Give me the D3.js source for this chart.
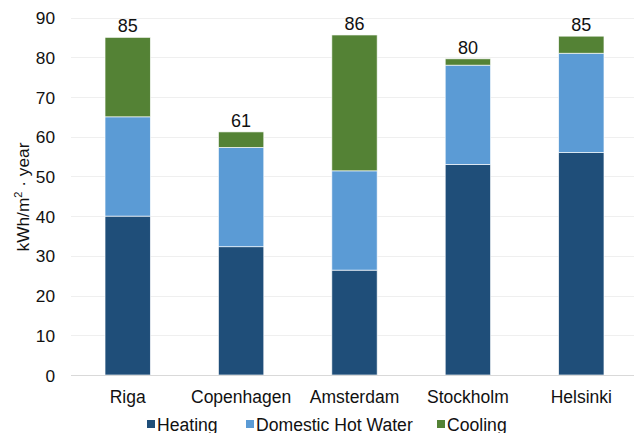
<!DOCTYPE html>
<html>
<head>
<meta charset="utf-8">
<script src="https://cdn.jsdelivr.net/npm/d3@7"></script>
<style>
  html, body { margin: 0; padding: 0; background: #fff; }
  svg { display: block; font-family: "Liberation Sans", Arial, sans-serif; }
</style>
</head>
<body>
<svg id="chart" width="634" height="433"></svg>
<script>
// Annual energy demand per city, kWh/m² · year
const cities = ["Riga", "Copenhagen", "Amsterdam", "Stockholm", "Helsinki"];
const heating = [40, 32.3, 26.4, 53, 56];
const hotWater = [25, 25, 25, 25, 25];
const cooling = [20, 3.9, 34.2, 1.6, 4.3];
const seriesNames = ["Heating", "Domestic Hot Water", "Cooling"];
const seriesColors = ["#1f4e79", "#5b9bd5", "#548235"];
const yTicks = [0, 10, 20, 30, 40, 50, 60, 70, 80, 90];

const rows = cities.map((c, i) => ({
  city: c,
  "Heating": heating[i],
  "Domestic Hot Water": hotWater[i],
  "Cooling": cooling[i]
}));

const svg = d3.select("#chart");
const margin = { left: 71, right: -4, top: 18, bottom: 58 };
const W = 634, H = 433;
const FONT = "Liberation Sans, Arial, sans-serif";

const x = d3.scaleBand()
  .domain(cities)
  .range([margin.left, W - margin.right])
  .paddingInner(0.6)
  .paddingOuter(0.3);

const y = d3.scaleLinear()
  .domain([0, 90])
  .range([375, 17.5]);

// gridlines
svg.append("g")
  .selectAll("line")
  .data(yTicks.filter(t => t > 0))
  .join("line")
  .attr("x1", margin.left).attr("x2", W)
  .attr("y1", d => Math.round(y(d)) + 0.5).attr("y2", d => Math.round(y(d)) + 0.5)
  .attr("stroke", "#efefef").attr("stroke-width", 1);

// y axis tick labels
const yAxis = d3.axisLeft(y).tickValues(yTicks).tickSize(0).tickPadding(0);
const yg = svg.append("g")
  .attr("transform", `translate(${55},0)`)
  .call(yAxis);
yg.select(".domain").remove();
yg.selectAll("text")
  .attr("font-size", 17.3).attr("fill", "#111")
  .attr("font-family", FONT)
  .attr("dy", "0.35em");

// stacked bars
const stack = d3.stack().keys(seriesNames);
const layers = stack(rows);

svg.append("g")
  .selectAll("g")
  .data(layers)
  .join("g")
  .attr("fill", (d, i) => seriesColors[i])
  .selectAll("rect")
  .data(d => d)
  .join("rect")
  .attr("x", d => x(d.data.city))
  .attr("width", x.bandwidth())
  .attr("y", d => y(d[1]))
  .attr("height", d => y(d[0]) - y(d[1]))
  .attr("stroke", "#ffffff")
  .attr("stroke-opacity", 0.8)
  .attr("stroke-width", 0.8);

// baseline
svg.append("line")
  .attr("x1", margin.left).attr("x2", W)
  .attr("y1", y(0) + 0.5).attr("y2", y(0) + 0.5)
  .attr("stroke", "#d9d9d9").attr("stroke-width", 1);

// totals above bars
svg.append("g")
  .selectAll("text")
  .data(rows)
  .join("text")
  .attr("x", d => x(d.city) + x.bandwidth() / 2)
  .attr("y", d => y(d["Heating"] + d["Domestic Hot Water"] + d["Cooling"]) - 5)
  .attr("text-anchor", "middle")
  .attr("font-size", 18).attr("fill", "#111")
  .text(d => Math.round(d["Heating"] + d["Domestic Hot Water"] + d["Cooling"]));

// x axis labels
const xAxis = d3.axisBottom(x).tickSize(0).tickPadding(0);
const xg = svg.append("g")
  .attr("transform", `translate(0,${391})`)
  .call(xAxis);
xg.select(".domain").remove();
xg.selectAll("text")
  .attr("font-size", 17.5).attr("fill", "#111")
  .attr("font-family", FONT)
  .attr("dy", "0.71em");

// y axis title
const title = svg.append("text")
  .attr("transform", `translate(29,197) rotate(-90)`)
  .attr("text-anchor", "middle")
  .attr("font-size", 17.3).attr("fill", "#111");
title.append("tspan").text("kWh/m");
title.append("tspan").attr("font-size", 11).attr("dy", -7).text("2");
title.append("tspan").attr("dy", 7).text(" · year");

// legend
const legendX = [147, 246, 437];
const lg = svg.append("g");
seriesNames.forEach((name, i) => {
  lg.append("rect")
    .attr("x", legendX[i]).attr("y", 420)
    .attr("width", 8).attr("height", 8)
    .attr("fill", seriesColors[i]);
  lg.append("text")
    .attr("x", legendX[i] + 10).attr("y", 430.5)
    .attr("font-size", 17.6).attr("fill", "#111")
    .text(name);
});
</script>
</body>
</html>
